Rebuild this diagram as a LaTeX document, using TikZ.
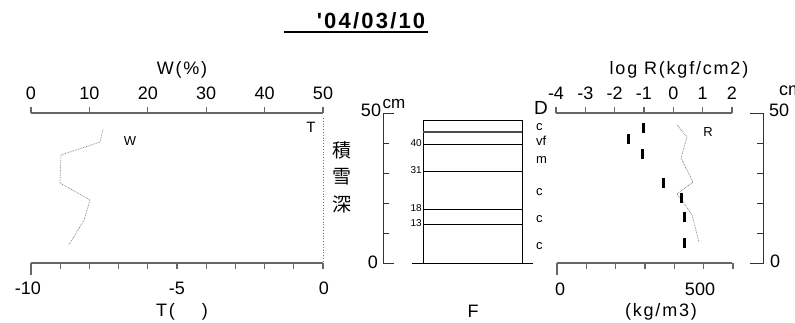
\documentclass[tikz,border=0pt]{standalone}
\usepackage{fontspec}
\newfontfamily\chartfont{Liberation Sans}
\newfontfamily\spacedfont{Liberation Sans}[LetterSpace=10]
\newfontfamily\titlefont{Liberation Sans}[LetterSpace=10]
\newfontfamily\cjkfont{Noto Sans CJK JP}
\definecolor{axisgray}{gray}{0.4}
\definecolor{curvegray}{gray}{0.45}
\newcommand\bigtext{\fontsize{18}{18}\selectfont\chartfont}
\newcommand\spacedtext{\fontsize{18}{18}\selectfont\spacedfont}
\newcommand\midtext{\fontsize{17}{17}\selectfont\chartfont}
\newcommand\smalltext{\fontsize{13}{13}\selectfont\chartfont}
\newcommand\tinytext{\fontsize{10}{10}\selectfont\chartfont}
\newcommand\wstep{58.4}
\newcommand\tstep{29.2}
\newcommand\rstep{29.33}
\newcommand\hstep{30}
\tikzset{
  axisline/.style={draw=axisgray, line width=1.2pt},
  depthaxis/.style={draw=black!80, line width=1pt},
  layerline/.style={draw=black, line width=0.8pt},
  profile/.style={draw=curvegray, densely dotted, line width=0.7pt},
  hardbar/.style={draw=black, line width=3pt},
  lbl/.style={inner sep=0pt, font=\bigtext},
  axistitle/.style={inner sep=0pt, font=\spacedtext},
}
\begin{document}
\begin{tikzpicture}[x=1pt, y=-1pt]
    \useasboundingbox (0,0) rectangle (795,322);
    % title
    \node[inner sep=0pt, font=\fontsize{22}{22}\selectfont\titlefont\bfseries] (title) at (371,21) {'04/03/10};
    \draw[line width=1.8pt] (284,32) -- (428,32);
    % left panel : W and T
    \draw[axisline] (31,113) -- (323,113);
    \foreach \i in {0,...,5} {
      \draw[axisline] (31 + \i * \wstep, 113) -- ++ (0,-6);
      \pgfmathtruncatemacro\wval{10 * \i}
      \node[lbl] (w\i) at (31 + \i * \wstep, 93) {\wval};
    }
    \node[axistitle] (wtitle) at (182,70) {W(\%)};
    \draw[axisline] (31,263) -- (323,263);
    \draw[axisline] (31,263) -- ++ (0,12);
    \foreach \i in {1,...,10}
      \draw[axisline] (31 + \i * \tstep, 263) -- ++ (0,6);
    \node[lbl] (tmin) at (28,288) {-10};
    \node[lbl] (tmid) at (177,288) {-5};
    \node[lbl] (tmax) at (324,288) {0};
    \node[axistitle] (ttitle) at (182,312) {T(\ \ \ \ )};
    \draw[curvegray, dotted, line width=0.8pt] (323,118) -- (323,263);
    \node[inner sep=0pt, font=\fontsize{15}{15}\selectfont\chartfont] (tlabel) at (311,127) {T};
    \node[inner sep=0pt, font=\smalltext] (wlabel) at (130,141) {W};
    \draw[profile] (103,129) -- (100,142) -- (61,155) -- (60,183)
       -- (90,200) -- (84,220) -- (69,245);
    \node[inner sep=0pt, font=\fontsize{19}{19}\selectfont\cjkfont] (seki) at (342,150) {積};
    \node[inner sep=0pt, font=\fontsize{19}{19}\selectfont\cjkfont] (setsu) at (342,177) {雪};
    \node[inner sep=0pt, font=\fontsize{19}{19}\selectfont\cjkfont] (shin) at (342,204) {深};
    % middle panel : snow depth and layers
    \draw[depthaxis] (394,113) -- (383,113) -- (383,263) -- (394,263);
    \foreach \i in {1,...,4}
      \draw[depthaxis] (383, 263 - \i * \hstep) -- ++ (6,0);
    \node[lbl] (htop) at (371,110) {50};
    \node[lbl] (hbot) at (373,262) {0};
    \node[inner sep=0pt, font=\midtext] (hunit) at (394,104) {cm};
    \draw[layerline] (423,120) rectangle (522,263);
    \draw[layerline] (412,263) -- (533,263);
    \draw[draw=black!70, line width=1.3pt] (423,132) -- (522,132);
    \foreach \d/\y in {40/144, 31/171, 18/209, 13/224} {
      \draw[layerline] (423,\y) -- (522,\y);
      \node[inner sep=0pt, anchor=east, font=\tinytext] (d\d) at (422,\y - 1) {\d};
    }
    \node[lbl] (ftitle) at (473,311) {F};
    \node[inner sep=0pt, font=\fontsize{19}{19}\selectfont\chartfont] (grainD) at (541,108) {D};
    \foreach \g/\y/\n in {c/127/a, vf/141/b, m/160/c, c/192/d, c/219/e, c/246/f}
      \node[inner sep=0pt, anchor=west, font=\smalltext] (grain\n) at (536,\y) {\g};
    % right panel : log R and density
    \draw[axisline] (556,113) -- (732,113);
    \foreach \i in {0,...,6} {
      \draw[axisline] (556 + \i * \rstep, 113) -- ++ (0,-6);
      \pgfmathtruncatemacro\rval{\i - 4}
      \node[lbl] (r\i) at (556 + \i * \rstep, 93) {\rval};
    }
    \node[axistitle] (rtitle) at (679,70) {log R(kgf/cm2)};
    \draw[axisline] (557,263) -- (732,263);
    \draw[axisline] (557,263) -- ++ (0,12);
    \foreach \i in {1,...,6}
      \draw[axisline] (557 + \i * \rstep, 263) -- ++ (0,6);
    \node[lbl] (dmin) at (560,289) {0};
    \node[lbl] (dmax) at (700,289) {500};
    \node[axistitle] (dtitle) at (661,312) {(kg/m3)};
    \draw[depthaxis] (750,113) -- (763,113) -- (763,263) -- (750,263);
    \foreach \i in {1,...,4}
      \draw[depthaxis] (763, 263 - \i * \hstep) -- ++ (-6,0);
    \node[lbl, anchor=west] (rtop) at (769,110) {50};
    \node[lbl, anchor=west] (rbot) at (770,261) {0};
    \node[lbl, anchor=west] (runit) at (779,91) {cm};
    \node[inner sep=0pt, font=\smalltext] (rlabel) at (708,132) {R};
    \draw[profile] (677,125) -- (687,137) -- (681,158) -- (693,182)
       -- (677,194) -- (682,200) -- (692,215) -- (699,242);
    \foreach \x/\y in {643/123, 628/134, 642/149, 663/178, 681/193, 684/212, 684/238}
      \draw[hardbar] (\x,\y) -- ++ (0,10);
\end{tikzpicture}
\end{document}
